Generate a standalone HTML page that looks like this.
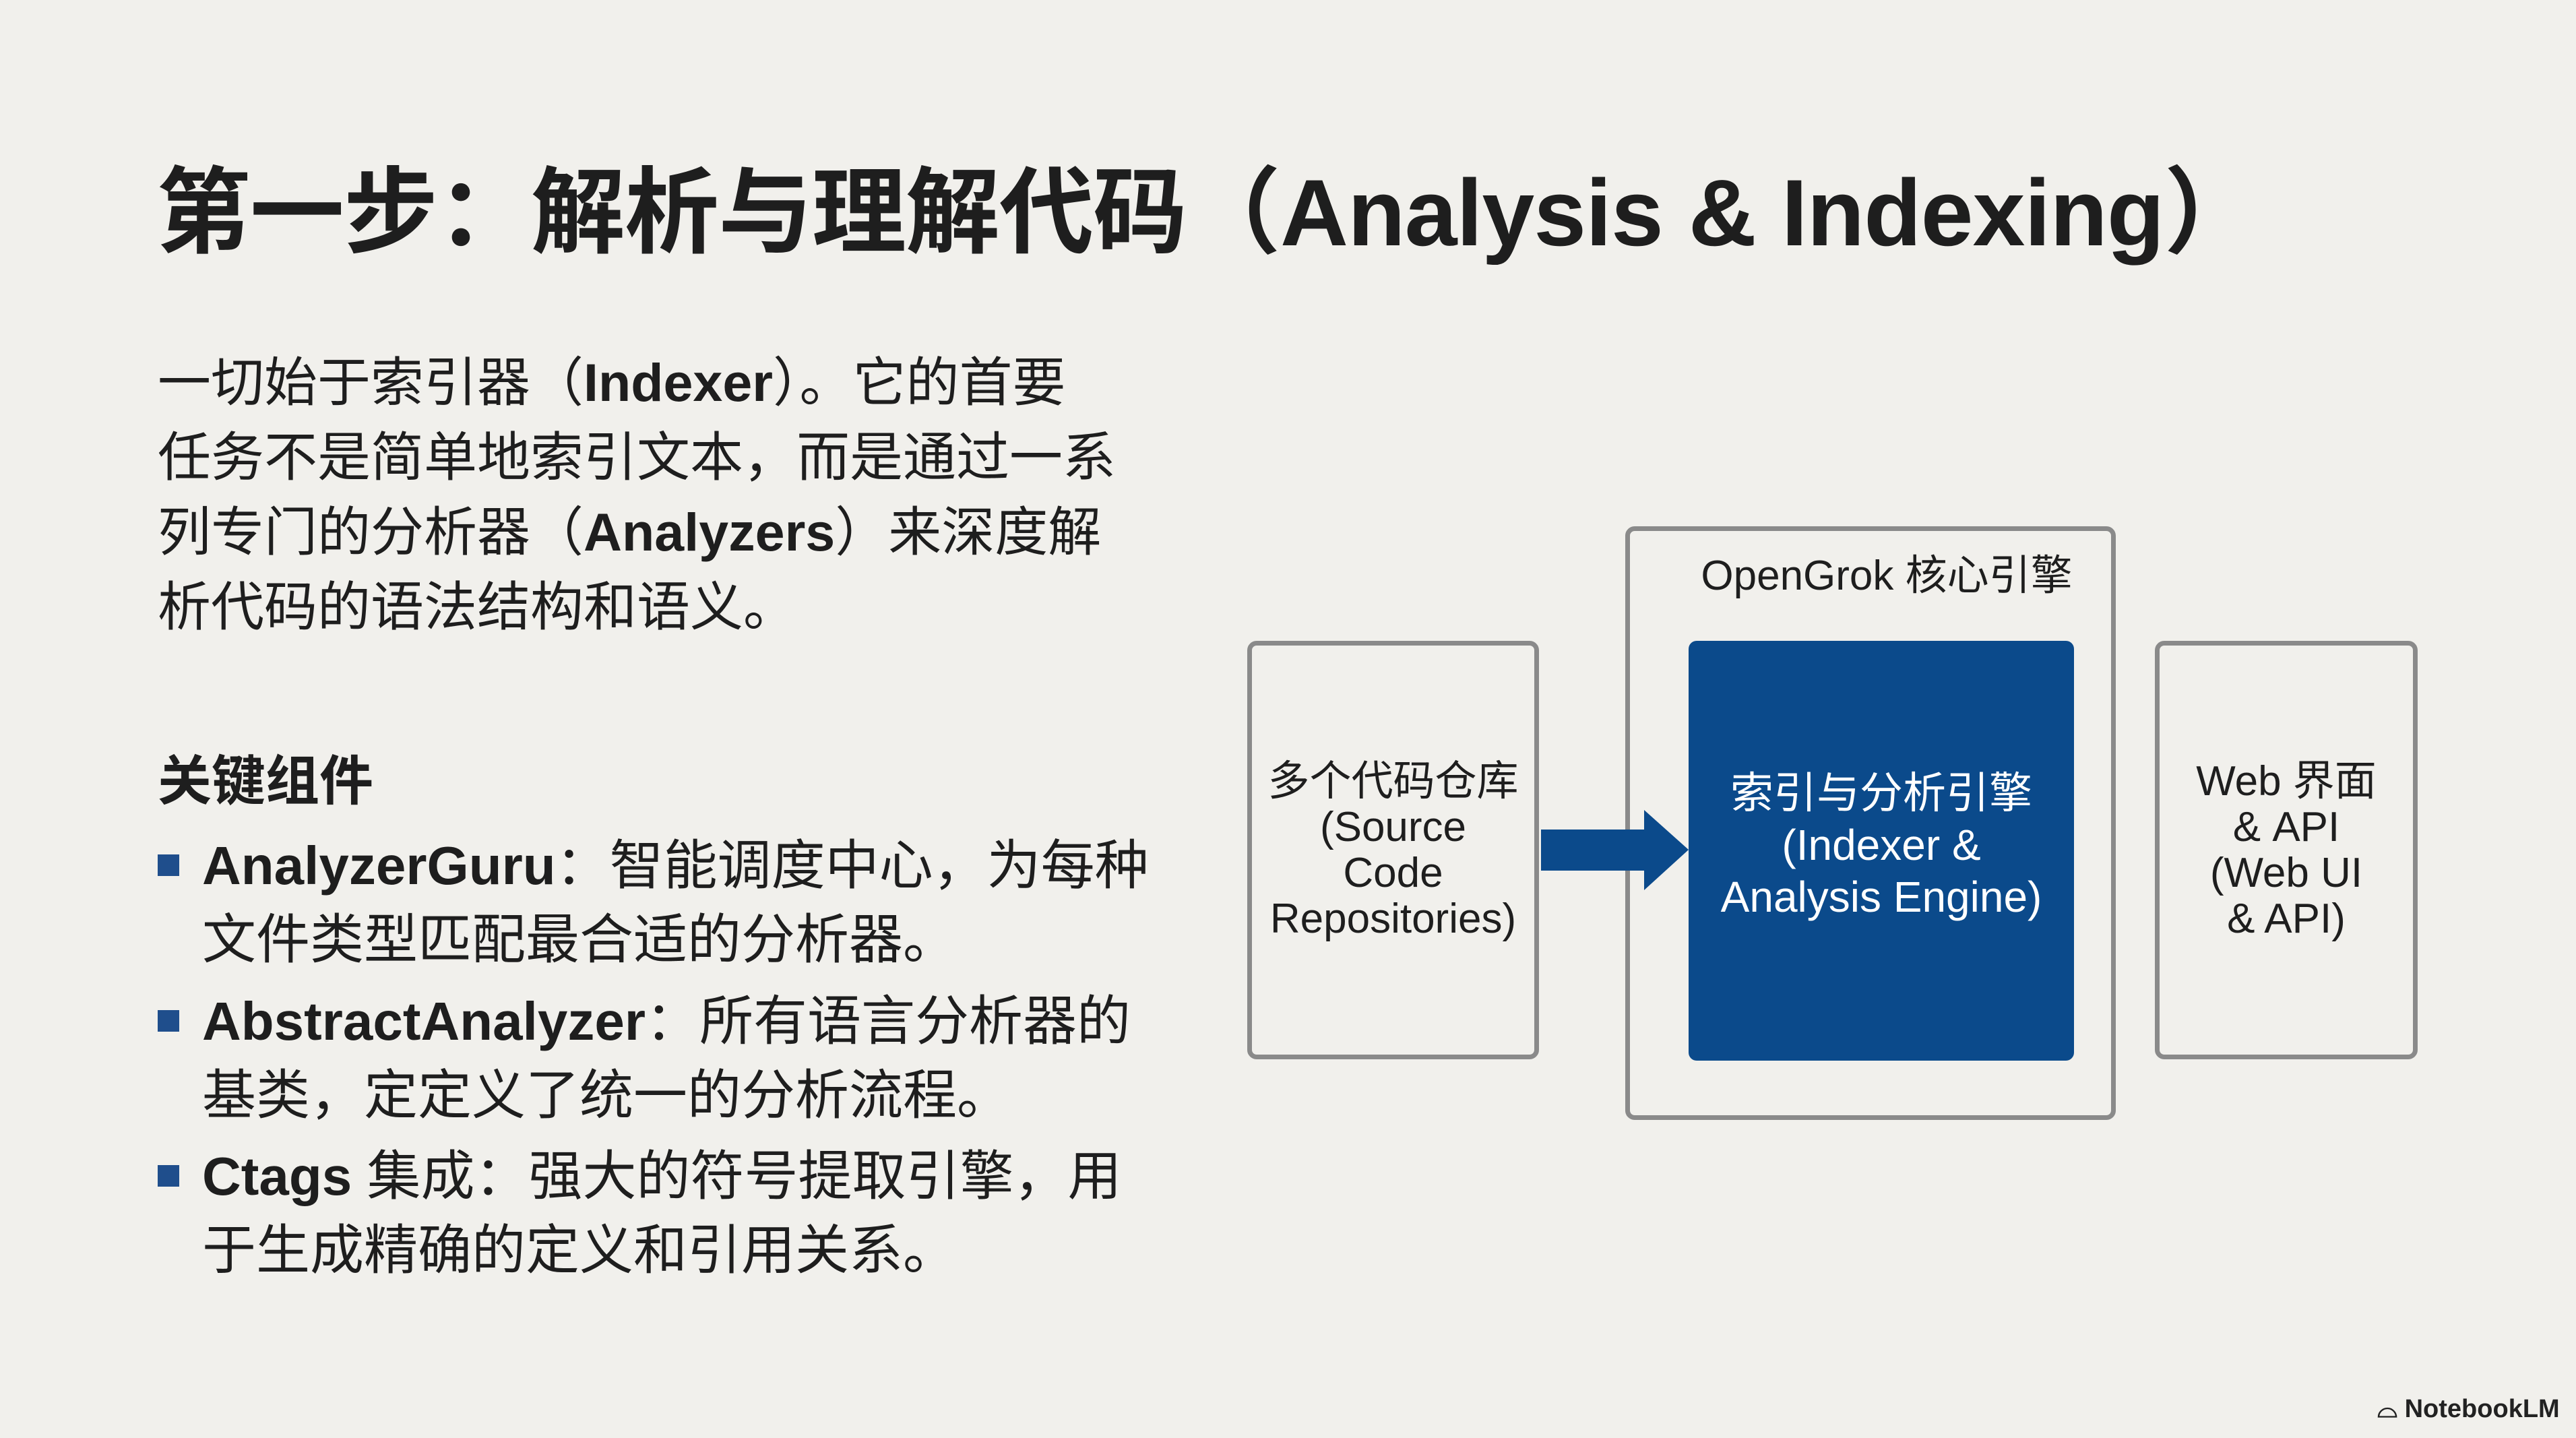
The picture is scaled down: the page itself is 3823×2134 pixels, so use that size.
<!DOCTYPE html>
<html><head><meta charset="utf-8"><style>
html,body{margin:0;padding:0}
body{width:3823px;height:2134px;background:#f1f0ec;position:relative;overflow:hidden;font-family:"Liberation Sans","Noto Sans CJK SC",sans-serif;color:#1e1e1e}
.a{position:absolute;white-space:nowrap}
.title{left:232px;top:232px;font-size:140px;font-weight:bold;line-height:1.2;letter-spacing:-1px}
.body{left:234px;top:512px;font-size:79px;line-height:111px}
.h{left:234px;top:1095px;font-size:80px;font-weight:bold}
.bl{left:300px;font-size:80px;line-height:110px}
.sq{position:absolute;left:234px;width:32px;height:32px;background:#1f4e8c}
.box{position:absolute;border:7px solid #8a8a8a;border-radius:14px;box-sizing:border-box}
.c{position:absolute;text-align:center;font-size:62px;line-height:68px;display:flex;flex-direction:column;justify-content:center;align-items:center}
</style></head><body>
<div class="a title">第一步：解析与理解代码（Analysis &amp; Indexing）</div>
<div class="a body">一切始于索引器（<b>Indexer</b>）。它的首要<br>任务不是简单地索引文本，而是通过一系<br>列专门的分析器（<b>Analyzers</b>）来深度解<br>析代码的语法结构和语义。</div>
<div class="a h">关键组件</div>
<div class="sq" style="top:1268px"></div>
<div class="a bl" style="top:1230px"><b>AnalyzerGuru</b>：智能调度中心，为每种<br>文件类型匹配最合适的分析器。</div>
<div class="sq" style="top:1499px"></div>
<div class="a bl" style="top:1461px"><b>AbstractAnalyzer</b>：所有语言分析器的<br>基类，定定义了统一的分析流程。</div>
<div class="sq" style="top:1729px"></div>
<div class="a bl" style="top:1691px"><b>Ctags</b> 集成：强大的符号提取引擎，用<br>于生成精确的定义和引用关系。</div>

<div class="box" style="left:1851px;top:951px;width:433px;height:621px"></div>
<div class="c" style="left:1851px;top:951px;width:433px;height:621px">多个代码仓库<br>(Source<br>Code<br>Repositories)</div>

<div class="box" style="left:2412px;top:781px;width:728px;height:881px"></div>
<div class="a" style="left:2436px;width:728px;text-align:center;top:803px;font-size:62px">OpenGrok 核心引擎</div>
<div style="position:absolute;left:2506px;top:951px;width:572px;height:623px;background:#0b4a8b;border-radius:12px"></div>
<div class="c" style="left:2506px;top:951px;width:572px;height:606px;color:#fff;font-size:64px;line-height:77px">索引与分析引擎<br>(Indexer &amp;<br>Analysis Engine)</div>

<svg style="position:absolute;left:0;top:0" width="3823" height="2134">
<polygon points="2287,1231 2440,1231 2440,1202 2506,1261 2440,1321 2440,1292 2287,1292" fill="#0b4a8b"/>
</svg>

<div class="box" style="left:3198px;top:951px;width:390px;height:621px"></div>
<div class="c" style="left:3198px;top:951px;width:390px;height:621px">Web 界面<br>&amp; API<br>(Web UI<br>&amp; API)</div>

<div class="a" style="left:3528px;top:2070px;font-size:38px;font-weight:bold;color:#222">⌓ NotebookLM</div>
</body></html>
